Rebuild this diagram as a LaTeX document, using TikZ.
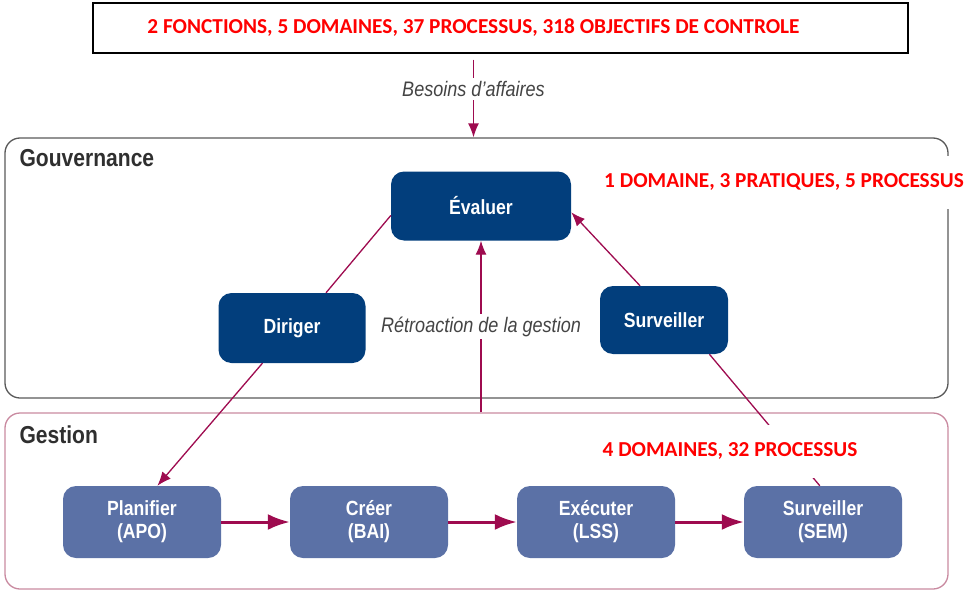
\documentclass[tikz,border=0pt]{standalone}
\usepackage{fontspec}
\setmainfont{Liberation Sans}
\newfontfamily\narrowfont[FakeStretch=0.86]{Liberation Sans}
\newfontfamily\countfont{Carlito}
\usetikzlibrary{arrows.meta,positioning}

\definecolor{govblue}{HTML}{023E7C}
\definecolor{mgtblue}{HTML}{5B71A6}
\definecolor{wine}{HTML}{9E0B4F}
\definecolor{mgtpink}{HTML}{C98AA0}
\definecolor{labelgray}{HTML}{2F2F2F}

\begin{document}
\begin{tikzpicture}[x=1pt, y=-1pt, >={Latex[length=14pt,width=11pt]}, node distance=227pt, on grid,
  gov/.style={rounded corners=13pt, fill=govblue, text=white, align=center,
    font=\narrowfont\bfseries\fontsize{20.5}{22}\selectfont},
  mgt/.style={rounded corners=13pt, fill=mgtblue, text=white, align=center,
    minimum width=158pt, minimum height=72pt,
    font=\narrowfont\bfseries\fontsize{20.5}{23}\selectfont},
  frame/.style={rounded corners=15pt, line width=1.3pt, minimum width=943pt},
  framelabel/.style={anchor=base west, text=labelgray,
    font=\narrowfont\bfseries\fontsize{24.5}{26}\selectfont},
  count/.style={fill=white, text=red, minimum height=53pt, inner xsep=2pt,
    font=\countfont\bfseries\fontsize{21.3}{25}\selectfont},
  remark/.style={fill=white, text=labelgray!90, inner xsep=2pt, inner ysep=3pt,
    font=\narrowfont\itshape\fontsize{21}{24}\selectfont},
  link/.style={wine, line width=1.3pt},
  flow/.style={wine, line width=3pt, -{Latex[length=22pt,width=16pt]}}]
\useasboundingbox (0,0) rectangle (968,591);

% cadre du haut
\node[draw, line width=1.5pt, minimum width=815pt, minimum height=50pt] (ctrl) at (500.5,28) {};
\node[text=red, font=\countfont\bfseries\fontsize{21.3}{25}\selectfont] (ctrltxt) at (473.5,28)
  {2 FONCTIONS, 5 DOMAINES, 37 PROCESSUS, 318 OBJECTIFS DE CONTROLE};

% les deux zones
\node[frame, draw=black!65, minimum height=260pt] (gouv) at (476.5,268) {};
\node[frame, draw=mgtpink, minimum height=176pt] (gest) at (476.5,501) {};
\node[framelabel] (gouvlbl) at (16,166) {Gouvernance};
\node[framelabel] (gestlbl) at (16,443) {Gestion};

% gouvernance
\node[gov, minimum width=180pt, minimum height=69pt] (eval) at (481,206) {Évaluer};
\node[gov, minimum width=147pt, minimum height=70pt] (dir) [below left=122pt and 189pt of eval] {Diriger};
\node[gov, minimum width=128pt, minimum height=68pt] (surv) [below right=114pt and 183pt of eval] {Surveiller};

% gestion
\node[mgt] (apo) at (142,522) {Planifier\\(APO)};
\node[mgt] (bai) [right=of apo] {Créer\\(BAI)};
\node[mgt] (lss) [right=of bai] {Exécuter\\(LSS)};
\node[mgt] (sem) [right=of lss] {Surveiller\\(SEM)};

\draw[link,->,shorten <=6pt] (ctrltxt |- ctrl.south) -- node[remark, pos=0.42] {Besoins d’affaires} (ctrltxt |- gouv.north);
\draw[link] (eval.186) -- (dir.46);
\draw[link,->] (dir.230) -- (apo.67);
\draw[link,->] (surv.125) -- (eval.356);
\draw[link] (surv.-37) -- (sem.95);
\draw[link,->] (eval.south |- gest.north) -- node[remark] {Rétroaction de la gestion} (eval.south);

\draw[flow] (apo) -- (bai);
\draw[flow] (bai) -- (lss);
\draw[flow] (lss) -- (sem);

\node[count] (govcount) at (784,182) {1 DOMAINE, 3 PRATIQUES, 5 PROCESSUS};
\node[count] (gestcount) at (730,451) {4 DOMAINES, 32 PROCESSUS};
\end{tikzpicture}
\end{document}
